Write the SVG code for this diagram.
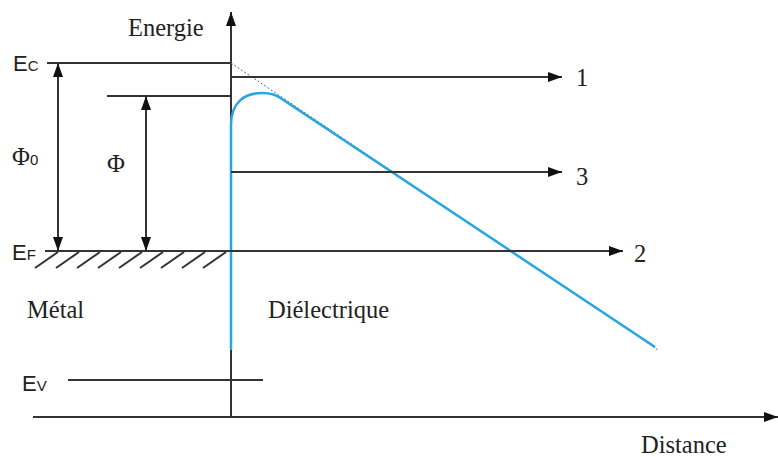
<svg xmlns="http://www.w3.org/2000/svg" width="778" height="457" viewBox="0 0 778 457">
<defs>
<marker id="ah" viewBox="0 0 14 10" refX="14" refY="5" markerWidth="14" markerHeight="10" markerUnits="userSpaceOnUse" orient="auto-start-reverse">
<path d="M0,0 L14,5 L0,10 Z" fill="#111"/>
</marker>
<style>
.ln{stroke:#333;stroke-width:2;fill:none}
.tx{font-family:"Liberation Serif","Times New Roman",serif;font-size:24.5px;fill:#222}
.sx{font-family:"Liberation Sans",Arial,sans-serif;fill:#222}
.blue{stroke:#27a6e1;stroke-width:2.5;fill:none}
</style>
</defs>
<rect width="778" height="457" fill="#fff"/>
<g id="axes">
<line class="ln" x1="231" y1="418" x2="231" y2="12" marker-end="url(#ah)"/>
<line class="ln" x1="33" y1="417" x2="778" y2="417" marker-end="url(#ah)"/>
</g>
<g id="metal">
<line class="ln" x1="47" y1="63" x2="231" y2="63"/>
<line class="ln" x1="107" y1="96" x2="231" y2="96"/>
<g class="ln" stroke-width="1.8">
<line x1="35" y1="268" x2="58" y2="252"/>
<line x1="56" y1="268" x2="79" y2="252"/>
<line x1="77" y1="268" x2="100" y2="252"/>
<line x1="98" y1="268" x2="121" y2="252"/>
<line x1="119" y1="268" x2="142" y2="252"/>
<line x1="140" y1="268" x2="163" y2="252"/>
<line x1="161" y1="268" x2="184" y2="252"/>
<line x1="182" y1="268" x2="205" y2="252"/>
<line x1="203" y1="268" x2="226" y2="252"/>
</g>
<line class="ln" x1="68" y1="380" x2="263" y2="380"/>
</g>
<g id="barrier">
<line x1="231" y1="63" x2="658" y2="350" stroke="#666" stroke-width="1" stroke-dasharray="2,2"/>
<path class="blue" d="M231,350 L231,125 C231,102 245,93 262,93 C271,93 277,95 282,99 L655,347"/>
</g>
<g id="connectors">
<line class="ln" x1="58" y1="63" x2="58" y2="251" marker-start="url(#ah)" marker-end="url(#ah)"/>
<line class="ln" x1="146" y1="96" x2="146" y2="251" marker-start="url(#ah)" marker-end="url(#ah)"/>
<line class="ln" x1="231" y1="77" x2="562" y2="77" marker-end="url(#ah)"/>
<line class="ln" x1="231" y1="172" x2="562" y2="172" marker-end="url(#ah)"/>
<line class="ln" x1="45" y1="251" x2="623" y2="251" marker-end="url(#ah)"/>
</g>
<g id="labels">
<text class="tx" x="128" y="36">Energie</text>
<text class="sx" x="13" y="71" font-size="22">E<tspan font-size="15">C</tspan></text>
<text class="sx" x="12" y="260" font-size="22">E<tspan font-size="15">F</tspan></text>
<text class="sx" x="22" y="391" font-size="22">E<tspan font-size="15">V</tspan></text>
<text class="tx" x="12" y="165" font-size="20">Φ<tspan class="sx" font-size="15">0</tspan></text>
<text class="tx" x="107" y="172" font-size="20">Φ</text>
<text class="tx" x="27" y="318">Métal</text>
<text class="tx" x="268" y="318">Diélectrique</text>
<text class="tx" x="641" y="453">Distance</text>
<text class="tx" x="576" y="86">1</text>
<text class="tx" x="576" y="185">3</text>
<text class="tx" x="634" y="262">2</text>
</g>
</svg>
